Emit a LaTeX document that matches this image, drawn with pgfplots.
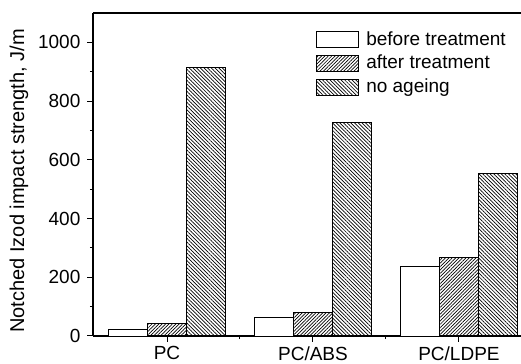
\documentclass[border=0pt]{standalone}
\usepackage{fontspec}
\setmainfont{Liberation Sans}
\usepackage{pgfplots}
\pgfplotsset{compat=1.18}
\usetikzlibrary{patterns.meta}
\begin{document}
\begin{tikzpicture}
\begin{axis}[
  scale only axis, width=214pt, height=161.5pt,
  xmin=-0.507, xmax=2.425, ymin=0, ymax=1100,
  axis x line=box, axis y line=left,
  axis line style={-, line width=0.6pt},
  xtick pos=bottom, ytick pos=left,
  tick align=outside,
  major tick length=2.8pt, minor tick length=1.6pt,
  every tick/.style={black, line width=0.5pt},
  xtick={0,1,2}, xticklabels={PC,PC/ABS,PC/LDPE},
  minor xtick={0.5,1.5},
  ytick={0,200,400,600,800,1000}, minor ytick={100,300,500,700,900},
  /pgf/number format/assume math mode=true,
  /pgf/number format/1000 sep={},
  tick label style={font=\fontsize{9.5}{11}\selectfont},
  xticklabel style={yshift=1pt},
  ylabel={Notched Izod impact strength, J/m},
  ylabel style={font=\fontsize{9.4}{11}\selectfont},
  every axis y label/.style={at={(axis description cs:-0.1729,0.48)}, rotate=90, anchor=center},
  legend image code/.code={\draw[#1] (0pt,-4pt) rectangle (21pt,4pt); \path (23pt,0pt);},
  legend style={at={(0.521,0.954)}, anchor=north west, draw=none, fill=none,
    font=\fontsize{9.5}{11}\selectfont, row sep=0.5pt, inner sep=0pt,
    nodes={inner sep=1.5pt}},
  legend cell align=left,
]
\addplot[ybar, bar width=0.267, bar shift=-0.267, draw=black, line width=0.45pt, fill=white]
  coordinates {(0,22) (1,62) (2,236)};
\addplot[ybar, bar width=0.267, bar shift=0, draw=black, line width=0.45pt,
  pattern={Lines[angle=45,distance=1.2pt,line width=0.35pt]}]
  coordinates {(0,42) (1,81) (2,268)};
\addplot[ybar, bar width=0.267, bar shift=0.267, draw=black, line width=0.45pt,
  pattern={Lines[angle=-45,distance=1.3pt,line width=0.35pt]}]
  coordinates {(0,915) (1,726) (2,554)};
\legend{before treatment, after treatment, no ageing}
\end{axis}
\pgfresetboundingbox
\path[use as bounding box] ([xshift=-46.5pt,yshift=-14pt]current axis.south west) rectangle ([yshift=6.5pt]current axis.north east);
\end{tikzpicture}
\end{document}
